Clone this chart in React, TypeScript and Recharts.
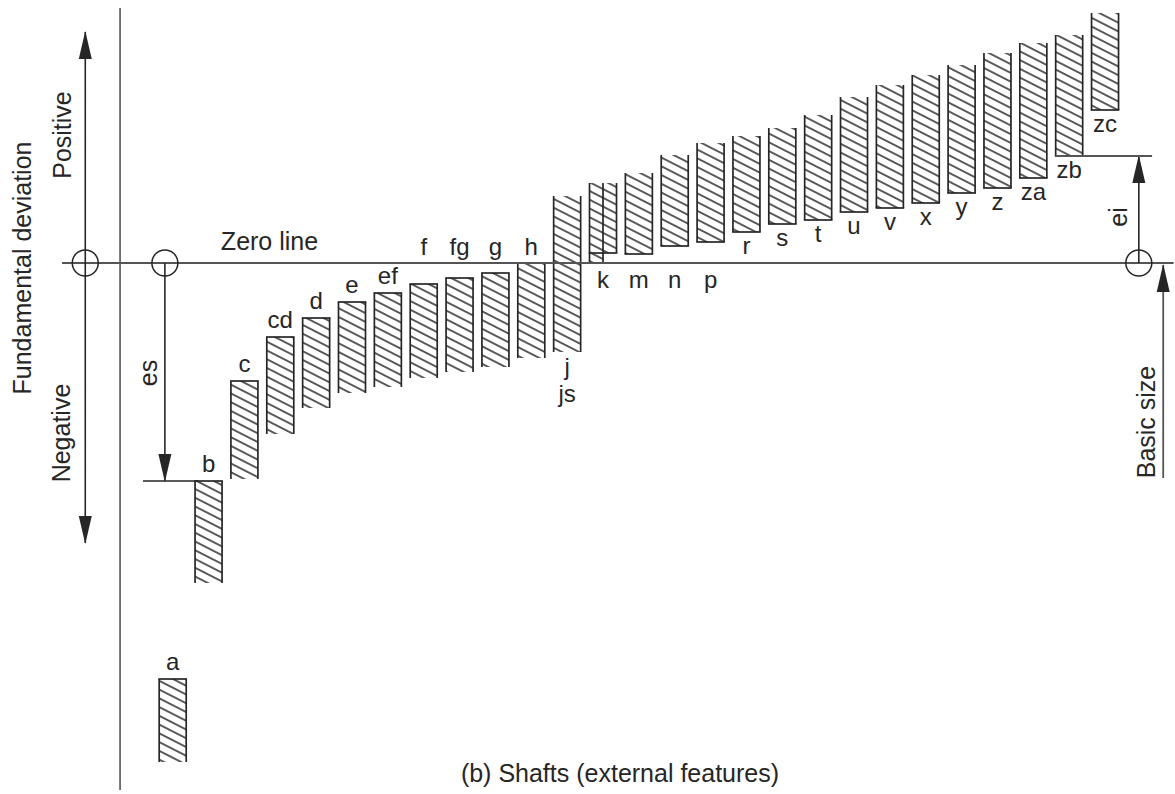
import React from 'react';
import { ComposedChart, Bar, XAxis, YAxis, ReferenceLine, ReferenceDot } from 'recharts';

// Fundamental deviation letters for shafts (arbitrary units, zero line = 0)
const categories = ['a', 'b', 'c', 'cd', 'd', 'e', 'ef', 'f', 'fg', 'g', 'h', 'js', 'k', 'm', 'n', 'p', 'r', 's', 't', 'u', 'v', 'x', 'y', 'z', 'za', 'zb', 'zc'];
const upperDeviation = [-416, -218, -118, -74, -55, -39, -30, -21, -15, -10, 0, 67, 80, 90, 108, 120, 127, 135, 148, 166, 178, 188, 198, 210, 220, 228, 250];
const lowerDeviation = [-499, -320, -216, -171, -145, -130, -124, -115, -109, -104, -95, -89, 10, 9, 17, 21, 31, 39, 43, 51, 55, 60, 70, 75, 85, 107, 153];
const barLabels = [['a'], ['b'], ['c'], ['cd'], ['d'], ['e'], ['ef'], ['f'], ['fg'], ['g'], ['h'], ['j', 'js'], ['k'], ['m'], ['n'], ['p'], ['r'], ['s'], ['t'], ['u'], ['v'], ['x'], ['y'], ['z'], ['za'], ['zb'], ['zc']];
const reachesZero = ['k'];

const data = categories.map((name, i) => ({ name, pos: i + 0.5, range: [lowerDeviation[i], upperDeviation[i]] }));

const W = 1175;
const H = 794;
const MARGIN = { top: 3, right: 51.6, bottom: 21, left: 155.2 };
const Y_DOMAIN: [number, number] = [-510, 260];
const X_NUM_DOMAIN: [number, number] = [0, categories.length];
const INK = '#262626';
const GREY = '#555';
const FONT = '"Liberation Sans", Arial, Helvetica, sans-serif';
const NEAR = 25;

// decoration positions along the numeric x axis (band units)
const LEFT_ARROW_X = -1.95;
const AXIS_X = -0.98;
const ES_X = 0.27;
const EI_X = 27.43;
const BASIC_X = 28.11;

const HatchedBar = (props: any) => {
  const { x, width, payload } = props;
  const i = categories.indexOf(payload.name);
  const lo = lowerDeviation[i];
  const hi = upperDeviation[i];
  const top = Math.min(props.y, props.y + props.height);
  const h = Math.abs(props.height);
  const bottom = top + h;
  const right = x + width;
  const zero = bottom + lo * (h / (hi - lo));
  const cx = x + width / 2;
  const els: any[] = [];
  els.push(<rect key="fill" x={x} y={top} width={width} height={h} fill="url(#hatch)" stroke="none" />);
  els.push(<line key="l" x1={x} y1={top} x2={x} y2={bottom} stroke={INK} strokeWidth={1.7} />);
  els.push(<line key="r" x1={right} y1={top} x2={right} y2={bottom} stroke={INK} strokeWidth={1.7} />);
  if (hi <= 0) els.push(<line key="t" x1={x - 0.8} y1={top} x2={right + 0.8} y2={top} stroke={INK} strokeWidth={1.7} />);
  if (lo >= 0) els.push(<line key="b" x1={x - 0.8} y1={bottom} x2={right + 0.8} y2={bottom} stroke={INK} strokeWidth={1.7} />);
  if (reachesZero.includes(payload.name)) {
    els.push(<rect key="fill2" x={x} y={bottom} width={width / 2} height={zero - bottom} fill="url(#hatch)" />);
    els.push(<line key="l2" x1={x} y1={bottom} x2={x} y2={zero} stroke={INK} strokeWidth={1.7} />);
    els.push(<line key="m2" x1={cx} y1={top} x2={cx} y2={zero} stroke={INK} strokeWidth={1.7} />);
  }
  // letter labels
  const lines = barLabels[i];
  let base: number;
  const step = 27;
  if (hi <= 0) {
    base = hi > -NEAR ? zero - 8 : top - 9;
  } else if (lo >= 0) {
    base = lo < NEAR ? zero + 25 : bottom + 22;
  } else {
    base = bottom + 23;
  }
  lines.forEach((t, k) => {
    els.push(
      <text key={'lab' + k} x={cx} y={base + k * step} textAnchor="middle" fontSize={24} fill={INK} fontFamily={FONT}>
        {t}
      </text>
    );
  });
  return <g>{els}</g>;
};

export default function App() {
  return (
    <div style={{ position: 'absolute', left: 0, top: 0, width: W, height: H, background: '#fff', fontFamily: FONT }}>
      <svg width={0} height={0} style={{ position: 'absolute' }}>
        <defs>
          <pattern id="hatch" patternUnits="userSpaceOnUse" width="10" height="7.8" patternTransform="rotate(27)">
            <line x1="-1" y1="3.9" x2="11" y2="3.9" stroke={INK} strokeWidth="1.5" />
          </pattern>
          <marker id="arrowHead" markerUnits="userSpaceOnUse" markerWidth="28" markerHeight="14" refX="27" refY="7" orient="auto-start-reverse" viewBox="0 0 28 14">
            <path d="M0,0.5 L28,7 L0,13.5 Z" fill={INK} />
          </marker>
        </defs>
      </svg>
      <ComposedChart width={W} height={H} data={data} margin={MARGIN}>
        <XAxis xAxisId="cat" dataKey="name" type="category" hide />
        <XAxis xAxisId="num" dataKey="pos" type="number" scale="linear" domain={X_NUM_DOMAIN} hide allowDataOverflow />
        <YAxis type="number" domain={Y_DOMAIN} hide allowDataOverflow />
        <Bar xAxisId="cat" dataKey="range" barSize={27} shape={HatchedBar} isAnimationActive={false} />
        {/* zero line */}
        <ReferenceLine xAxisId="num" segment={[{ x: -2.6, y: 0 }, { x: 28.4, y: 0 }]} stroke={GREY} strokeWidth={2} ifOverflow="visible" />
        {/* left vertical reference */}
        <ReferenceLine xAxisId="num" segment={[{ x: AXIS_X, y: 255 }, { x: AXIS_X, y: -527 }]} stroke={GREY} strokeWidth={1.6} ifOverflow="visible" />
        {/* fundamental deviation double arrow */}
        <ReferenceLine xAxisId="num" segment={[{ x: LEFT_ARROW_X, y: -280 }, { x: LEFT_ARROW_X, y: 231 }]} stroke={INK} strokeWidth={1.6} markerStart="url(#arrowHead)" markerEnd="url(#arrowHead)" ifOverflow="visible" />
        {/* es dimension */}
        <ReferenceLine xAxisId="num" segment={[{ x: ES_X, y: 0 }, { x: ES_X, y: upperDeviation[1] }]} stroke={INK} strokeWidth={1.6} markerEnd="url(#arrowHead)" ifOverflow="visible" />
        <ReferenceLine xAxisId="num" segment={[{ x: -0.34, y: upperDeviation[1] }, { x: 1.2, y: upperDeviation[1] }]} stroke={INK} strokeWidth={1.6} ifOverflow="visible" />
        {/* ei dimension */}
        <ReferenceLine xAxisId="num" segment={[{ x: EI_X, y: 0 }, { x: EI_X, y: lowerDeviation[25] }]} stroke={INK} strokeWidth={1.6} markerEnd="url(#arrowHead)" ifOverflow="visible" />
        <ReferenceLine xAxisId="num" segment={[{ x: 25.1, y: lowerDeviation[25] }, { x: 27.8, y: lowerDeviation[25] }]} stroke={GREY} strokeWidth={1.8} ifOverflow="visible" />
        {/* basic size arrow */}
        <ReferenceLine xAxisId="num" segment={[{ x: BASIC_X, y: -215 }, { x: BASIC_X, y: -2 }]} stroke={GREY} strokeWidth={1.8} markerEnd="url(#arrowHead)" ifOverflow="visible" />
        <ReferenceDot xAxisId="num" x={LEFT_ARROW_X} y={0} r={13} fill="none" stroke={INK} strokeWidth={1.5} ifOverflow="visible" />
        <ReferenceDot xAxisId="num" x={ES_X} y={0} r={13} fill="none" stroke={INK} strokeWidth={1.5} ifOverflow="visible" />
        <ReferenceDot xAxisId="num" x={EI_X} y={0} r={13} fill="none" stroke={INK} strokeWidth={1.5} ifOverflow="visible" />
      </ComposedChart>
      <svg width={W} height={H} style={{ position: 'absolute', left: 0, top: 0, pointerEvents: 'none' }} fontFamily={FONT} fill={INK}>
        <text x={269.5} y={250} textAnchor="middle" fontSize={25}>Zero line</text>
        <text x={620} y={782} textAnchor="middle" fontSize={25}>(b) Shafts (external features)</text>
        <text x={31} y={268} textAnchor="middle" fontSize={25} transform="rotate(-90 31 268)">Fundamental deviation</text>
        <text x={71} y={135} textAnchor="middle" fontSize={25} transform="rotate(-90 71 135)">Positive</text>
        <text x={70} y={433} textAnchor="middle" fontSize={25} transform="rotate(-90 70 433)">Negative</text>
        <text x={157} y={373} textAnchor="middle" fontSize={25} transform="rotate(-90 157 373)">es</text>
        <text x={1127} y={217} textAnchor="middle" fontSize={25} transform="rotate(-90 1127 217)">ei</text>
        <text x={1155} y={422} textAnchor="middle" fontSize={25} transform="rotate(-90 1155 422)">Basic size</text>
      </svg>
    </div>
  );
}
